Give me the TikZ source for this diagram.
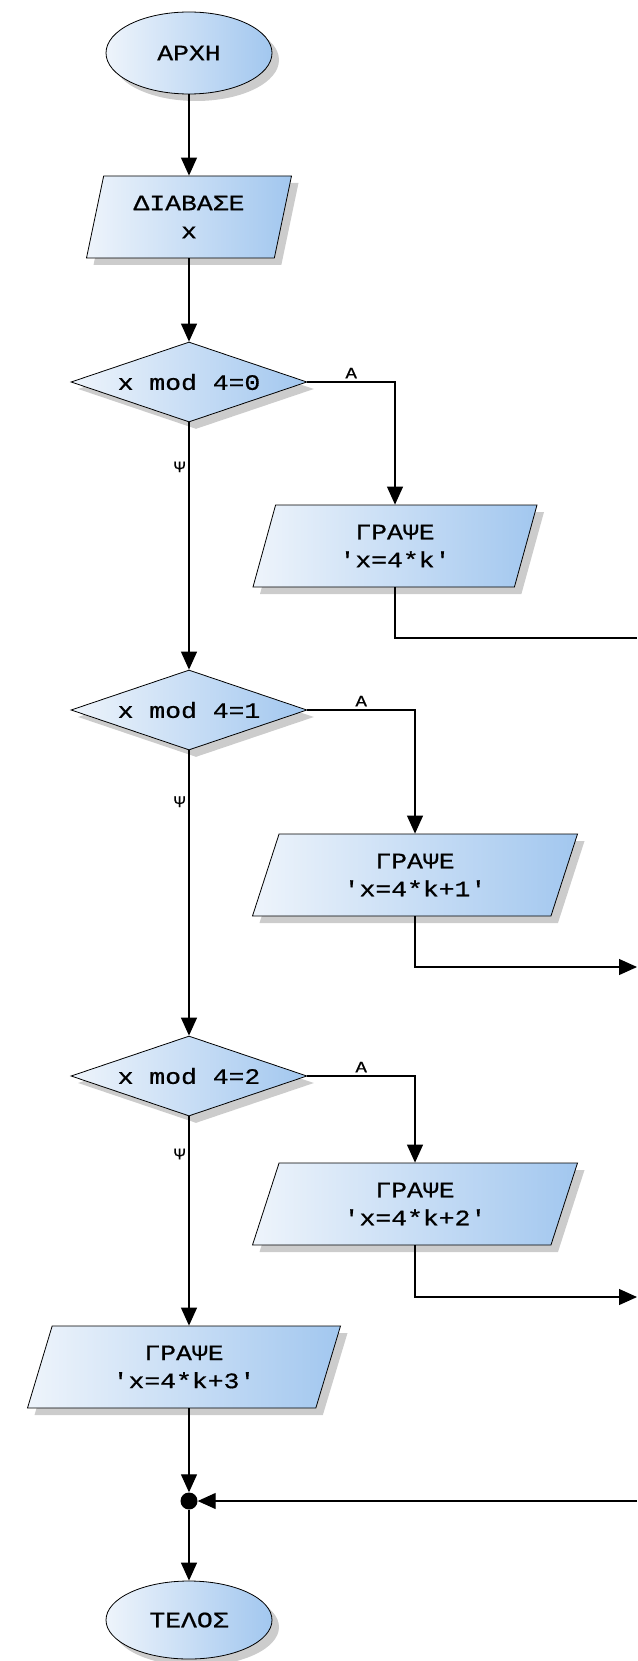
\documentclass[tikz,border=0pt]{standalone}
\usepackage{fontspec}
\newfontfamily\flowfont[FakeStretch=1.2,FakeBold=0.7]{Liberation Mono}
\usetikzlibrary{arrows.meta,shapes.geometric,shadows}
\definecolor{lightfill}{RGB}{238,244,251}
\definecolor{bluefill}{RGB}{162,199,239}

\begin{document}
\begin{tikzpicture}[x=1pt,y=-1pt,
	font=\flowfont\fontsize{22}{28}\selectfont,
	box/.style={draw=black,line width=.8pt,left color=lightfill,right color=bluefill,
		drop shadow={shadow xshift=7pt,shadow yshift=-7pt,fill=black!40,opacity=.5}},
	term/.style={box,ellipse,minimum width=166pt,minimum height=82pt,inner sep=0pt},
	test/.style={box,diamond,aspect=2.95,minimum width=236pt,minimum height=80pt,inner sep=0pt},
	io/.style 2 args={box,trapezium,trapezium left angle=#1,trapezium right angle=#2,
		trapezium stretches body,minimum height=82pt,inner sep=0pt,align=center},
	tag/.style={font=\flowfont\fontsize{16}{18}\selectfont,inner sep=3pt},
	link/.style={line width=1.2pt},
	flow/.style={link,-{Triangle[width=16pt,length=18pt]}},
	dot/.style={circle,fill=black,inner sep=0pt,minimum size=17pt}]
	\useasboundingbox (0,0) rectangle (637,1661);
	\path
	(637,638) coordinate (e0)
	(637,967) coordinate (e1)
	(637,1297) coordinate (e2)
	(637,1501) coordinate (e3)
	;
	\node[term] (start) at (189,53) {ΑΡΧΗ};
	\node[io={68}{112},minimum width=205pt] (read) at (189,217) {ΔΙΑΒΑΣΕ\\x};
	\node[test] (q0) at (189,382) {x mod 4=0};
	\node[io={62}{118},minimum width=284pt] (w0) at (395,546) {ΓΡΑΨΕ\\'x=4*k'};
	\node[test] (q1) at (189,710) {x mod 4=1};
	\node[io={58}{122},minimum width=325pt] (w1) at (415,875) {ΓΡΑΨΕ\\'x=4*k+1'};
	\node[test] (q2) at (189,1076) {x mod 4=2};
	\node[io={58}{122},minimum width=325pt] (w2) at (415,1204) {ΓΡΑΨΕ\\'x=4*k+2'};
	\node[io={60}{120},minimum width=313pt] (w3) at (184,1367) {ΓΡΑΨΕ\\'x=4*k+3'};
	\node[dot] (join) at (189,1501) {};
	\node[term,minimum height=78pt] (stop) at (189,1620) {ΤΕΛΟΣ};
	% ροή
	\draw[flow] (start.south) -- (start.south |- read.north);
	\draw[flow] (q0.north |- read.south) -- (q0.north);
	\draw[flow] (q0.east) -| node[tag,above,pos=.25]{Α} (w0.north);
	\draw[flow] (q0.south) -- node[tag,left,pos=.18]{Ψ} (q1.north);
	\draw[link] (w0.south) |- (e0);
	\draw[flow] (q1.east) -| node[tag,above,pos=.25]{Α} (w1.north);
	\draw[flow] (q1.south) -- node[tag,left,pos=.18]{Ψ} (q2.north);
	\draw[flow] (w1.south) |- (e1);
	\draw[flow] (q2.east) -| node[tag,above,pos=.25]{Α} (w2.north);
	\draw[flow] (q2.south) -- node[tag,left,pos=.18]{Ψ} (q2.south |- w3.north);
	\draw[flow] (w2.south) |- (e2);
	\draw[flow] (join |- w3.south) -- (join);
	\draw[flow] (e3) -- (join);
	\draw[flow] (join) -- (stop);
\end{tikzpicture}
\end{document}
